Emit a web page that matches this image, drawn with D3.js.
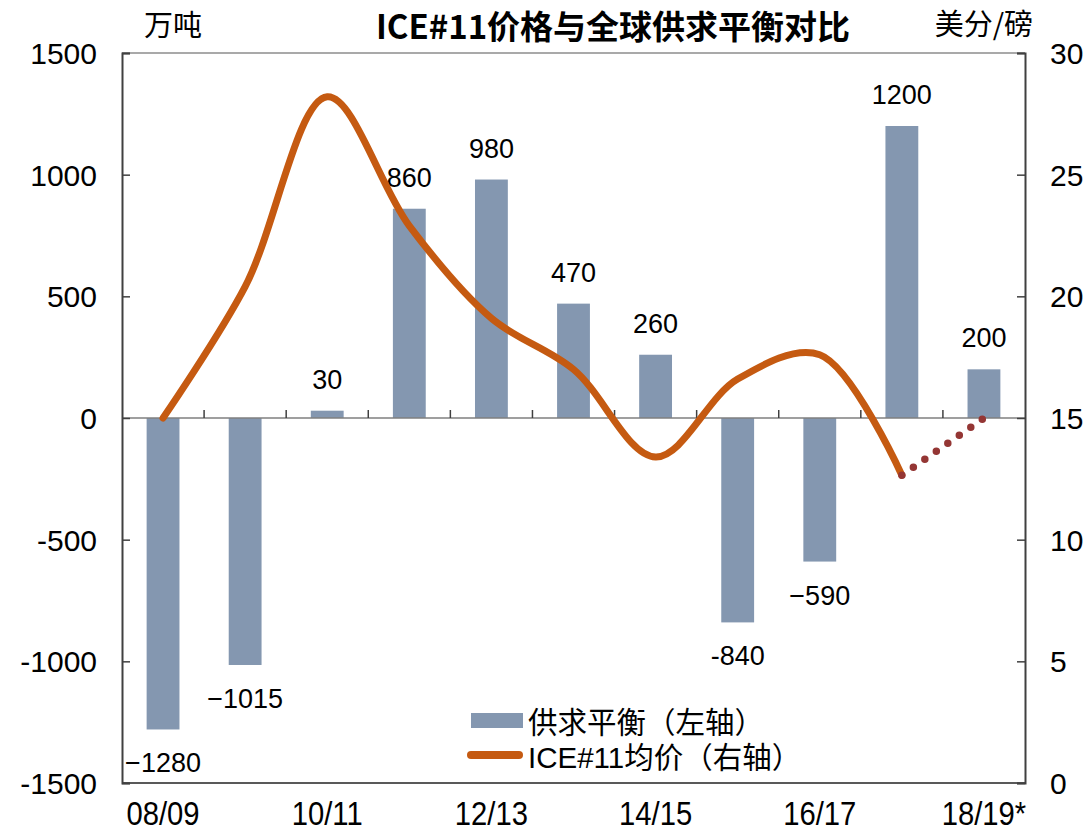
<!DOCTYPE html>
<html><head><meta charset="utf-8">
<script src="https://cdn.jsdelivr.net/npm/d3@7"></script>
<style>
body{margin:0;background:#fff;}
text{font-family:"Liberation Sans",Arial,"Noto Sans CJK SC",sans-serif;fill:#000;}
</style></head>
<body>
<svg id="chart" width="1091" height="833"></svg>
<script>
const categories = ["08/09","09/10","10/11","11/12","12/13","13/14","14/15","15/16","16/17","17/18","18/19*"];
const balance = [-1280,-1015,30,860,980,470,260,-840,-590,1200,200];
const balanceLabels = ["\u22121280","\u22121015","30","860","980","470","260","-840","\u2212590","1200","200"];
const price = [15.0,20.4,28.2,22.9,19.1,17.0,13.4,16.6,17.6,12.65];
const priceForecast = [12.65,15.0];
const leftTicks = [-1500,-1000,-500,0,500,1000,1500];
const rightTicks = [0,5,10,15,20,25,30];
const xTickLabels = ["08/09","10/11","12/13","14/15","16/17","18/19*"];
const title = "ICE#11价格与全球供求平衡对比";
const leftUnit = "万吨", rightUnit = "美分/磅";
const legendLabels = ["供求平衡（左轴）","ICE#11均价（右轴）"];

const L=122,R=1025,T=53,B=783;
const svg=d3.select("#chart");
const x=d3.scaleBand().domain(categories).range([L,R]).paddingInner(0.6).paddingOuter(0.3);
const step=(R-L)/categories.length;
const cx=c=>x(c)+x.bandwidth()/2;
const yL=d3.scaleLinear().domain([-1500,1500]).range([B,T]);
const yR=d3.scaleLinear().domain([0,30]).range([B,T]);

// bars
svg.append("g").selectAll("rect").data(balance).join("rect")
 .attr("x",(d,i)=>x(categories[i]))
 .attr("width",x.bandwidth())
 .attr("y",d=>yL(Math.max(0,d)))
 .attr("height",d=>Math.abs(yL(d)-yL(0)))
 .attr("fill","#8497B0");

// zero line with category ticks
svg.append("line").attr("x1",L).attr("x2",R).attr("y1",yL(0)).attr("y2",yL(0)).attr("stroke","#7f7f7f").attr("stroke-width",1.5);
svg.append("g").selectAll("line").data(d3.range(1,categories.length)).join("line")
 .attr("x1",i=>L+i*step).attr("x2",i=>L+i*step)
 .attr("y1",yL(0)).attr("y2",yL(0)-8).attr("stroke","#404040").attr("stroke-width",1.5);

// frame
svg.append("line").attr("x1",L).attr("x2",R).attr("y1",T).attr("y2",T).attr("stroke","#8c8c8c").attr("stroke-width",1.5);
svg.append("line").attr("x1",L).attr("x2",R).attr("y1",B).attr("y2",B).attr("stroke","#595959").attr("stroke-width",2);

// left axis
const gl=svg.append("g").attr("transform",`translate(${L},0)`)
 .call(d3.axisLeft(yL).tickValues(leftTicks).tickSize(-8).tickPadding(25).tickFormat(d=>String(d)));
gl.select(".domain").attr("stroke","#404040").attr("stroke-width",2);
gl.selectAll(".tick line").attr("stroke","#404040").attr("stroke-width",1.5);
gl.selectAll("text").attr("font-size",30).attr("font-family","Liberation Sans, Arial, sans-serif").attr("dy","0.35em");

// right axis
const gr=svg.append("g").attr("transform",`translate(${R},0)`)
 .call(d3.axisRight(yR).tickValues(rightTicks).tickSize(-8).tickPadding(25).tickFormat(d=>String(d)));
gr.select(".domain").attr("stroke","#404040").attr("stroke-width",2);
gr.selectAll(".tick line").attr("stroke","#404040").attr("stroke-width",1.5);
gr.selectAll("text").attr("font-size",30).attr("font-family","Liberation Sans, Arial, sans-serif").attr("dy","0.35em");

// x labels (condensed)
svg.append("g").selectAll("text").data(xTickLabels).join("text")
 .attr("transform",d=>`translate(${cx(d)},825) scale(0.86,1)`)
 .attr("text-anchor","middle").attr("font-size",34)
 .text(d=>d);

// bar labels
svg.append("g").selectAll("text").data(balance).join("text")
 .attr("x",(d,i)=>cx(categories[i]))
 .attr("y",d=>d>=0?yL(d)-22:yL(d)+43)
 .attr("text-anchor","middle").attr("font-size",27)
 .text((d,i)=>balanceLabels[i]);

// price line
const line=d3.line().x((d,i)=>cx(categories[i])).y(d=>yR(d)).curve(d3.curveCatmullRom.alpha(0.5));
svg.append("path").datum(price).attr("d",line).attr("fill","none")
 .attr("stroke","#C55A11").attr("stroke-width",7).attr("stroke-linecap","round").attr("stroke-linejoin","round");

// forecast dotted
const fLine=d3.line().x((d,i)=>cx(categories[9+i])).y(d=>yR(d));
svg.append("path").datum(priceForecast).attr("d",fLine).attr("fill","none")
 .attr("stroke","#943634").attr("stroke-width",7.5).attr("stroke-linecap","round")
 .attr("stroke-dasharray","0 14").attr("stroke-dashoffset",-14);

// title & units
svg.append("text").attr("x",613).attr("y",39).attr("text-anchor","middle").attr("font-size",33).attr("font-weight","bold")
 .style("font-family","'Noto Sans CJK SC','Liberation Sans',sans-serif").text(title);
svg.append("text").attr("x",144).attr("y",36).attr("font-size",29).style("font-family","'Noto Sans CJK SC',sans-serif").text(leftUnit);
svg.append("text").attr("x",1033).attr("y",35).attr("text-anchor","end").attr("font-size",29).style("font-family","'Noto Sans CJK SC',sans-serif").text(rightUnit);

// legend
const lg=svg.append("g");
lg.append("rect").attr("x",471).attr("y",713).attr("width",52).attr("height",15).attr("fill","#8497B0");
lg.append("line").attr("x1",471).attr("x2",519).attr("y1",755).attr("y2",755).attr("stroke","#C55A11").attr("stroke-width",8).attr("stroke-linecap","round");
lg.append("text").attr("x",528).attr("y",733).attr("font-size",29.5).style("font-family","'Noto Sans CJK SC',sans-serif").text(legendLabels[0]);
lg.append("text").attr("x",528).attr("y",768).attr("font-size",29.5).style("font-family","'Liberation Sans','Noto Sans CJK SC',sans-serif").text(legendLabels[1]);
</script>
</body></html>
